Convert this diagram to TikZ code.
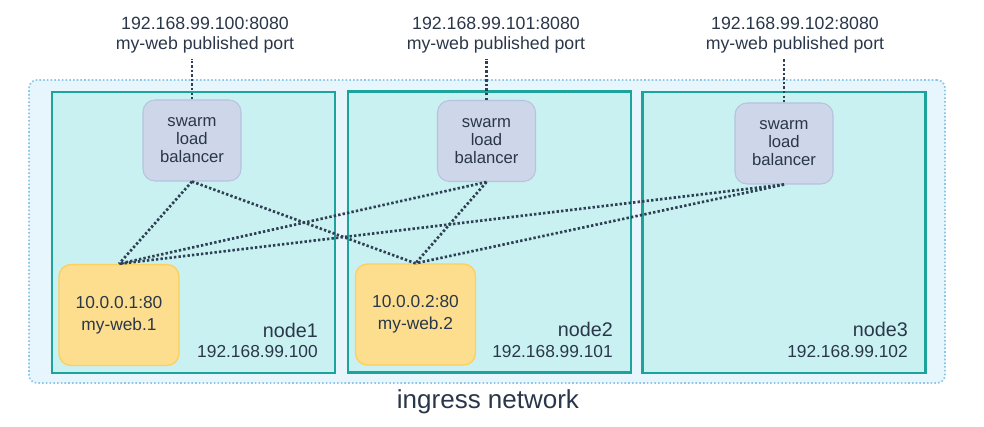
\documentclass[tikz,border=0pt]{standalone}
\usepackage{fontspec}
\setmainfont{Liberation Sans}
\definecolor{ink}{HTML}{2A374A}
\definecolor{wire}{HTML}{2F4054}
\definecolor{netfill}{HTML}{E7F5FC}
\definecolor{netline}{HTML}{8CC6E8}
\definecolor{hostfill}{HTML}{C9F1F1}
\definecolor{hostline}{HTML}{1BA39C}
\definecolor{lbfill}{HTML}{CED6E9}
\definecolor{lbline}{HTML}{B7C2DF}
\definecolor{taskfill}{HTML}{FDDE8E}
\definecolor{taskline}{HTML}{FCCF5E}
\begin{document}
\begin{tikzpicture}[x=0.75pt,y=-0.75pt,
    net/.style={draw=netline,fill=netfill,line width=1.3pt,dash pattern=on 1.2pt off 1.6pt,
      rounded corners=6pt,minimum width=687pt,minimum height=227.25pt,inner sep=0pt},
    host/.style={draw=hostline,fill=hostfill,line width=1.9pt,
      minimum width=212.25pt,minimum height=210.75pt,inner sep=0pt},
    lb/.style={draw=lbline,fill=lbfill,line width=0.8pt,rounded corners=9pt,
      minimum width=73.5pt,minimum height=60.75pt,inner sep=0pt,align=center,text=ink,
      font=\fontsize{12.5}{13.5}\selectfont},
    task/.style={draw=taskline,fill=taskfill,line width=1pt,rounded corners=9pt,
      minimum width=90pt,minimum height=75.75pt,inner sep=0pt,align=center,text=ink,
      font=\fontsize{13}{16.5}\selectfont},
    pub/.style={align=center,text=ink,inner sep=0pt,font=\fontsize{13.3}{15}\selectfont},
    hname/.style={anchor=base east,inner sep=0pt,text=ink,font=\fontsize{14.8}{17}\selectfont},
    hip/.style={anchor=base east,inner sep=0pt,text=ink,font=\fontsize{13}{15}\selectfont},
    link/.style={draw=wire,line width=2pt,dash pattern=on 1.8pt off 1.6pt}]
  \useasboundingbox (0,0) rectangle (984,427);
  \node[net] (ingress) at (487,231.5) {};
  \node[text=ink,font=\fontsize{19.5}{22}\selectfont] (netname) at (488,402) {ingress network};
  \draw
    (193.5,232.5) node[host] (host1){}
    (489.5,232) node[host] (host2){}
    (784,232.5) node[host] (host3){};
  \draw
    (318,337) node[hname] (name1){node1}
    (613,336) node[hname] (name2){node2}
    (908,336) node[hname] (name3){node3}
    (318,357) node[hip] (ip1){192.168.99.100}
    (613,357) node[hip] (ip2){192.168.99.101}
    (908,357) node[hip] (ip3){192.168.99.102};
  \draw
    (205,35) node[pub] (pub1){192.168.99.100:8080\\my-web published port}
    (496,35) node[pub] (pub2){192.168.99.101:8080\\my-web published port}
    (795,35) node[pub] (pub3){192.168.99.102:8080\\my-web published port};
  \draw
    (192,140.5) node[lb] (lb1){swarm\\load\\balancer}
    (486.5,141) node[lb] (lb2){swarm\\load\\balancer}
    (784,143.5) node[lb] (lb3){swarm\\load\\balancer};
  \draw
    (119,315) node[task] (web1){10.0.0.1:80\\my-web.1}
    (415.5,314.5) node[task] (web2){10.0.0.2:80\\my-web.2};
  \begin{scope}[link]
    \draw (lb1.south) to (web1.north);
    \draw (lb1.south) to (web2.north);
    \draw (lb2.south) to (web1.north);
    \draw (lb2.south) to (web2.north);
    \draw (lb3.south) to (web1.north);
    \draw (lb3.south) to (web2.north);
    \draw (lb1.north) to ([yshift=-4pt]lb1.north |- pub1.south);
    \draw (lb2.north) to ([yshift=-4pt]lb2.north |- pub2.south);
    \draw (lb3.north) to ([yshift=-4pt]lb3.north |- pub3.south);
  \end{scope}
\end{tikzpicture}
\end{document}
